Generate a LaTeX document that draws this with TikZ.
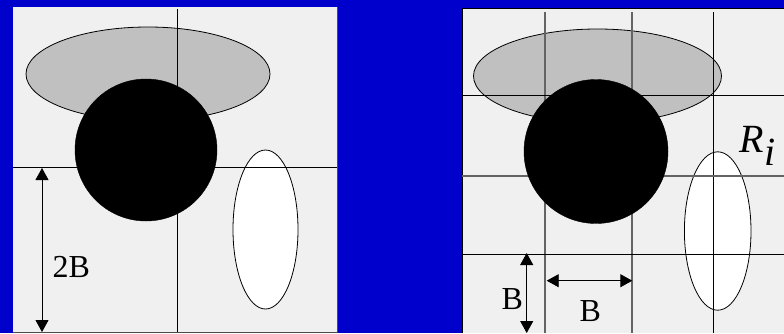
\documentclass[tikz,border=0pt]{standalone}
\usepackage{fontspec}
\setmainfont{Liberation Serif}
\usetikzlibrary{arrows.meta}
\definecolor{bgblue}{RGB}{0,0,204}
\definecolor{panel}{RGB}{240,240,240}
\definecolor{shade}{RGB}{192,192,192}
\definecolor{gridgray}{RGB}{100,100,100}
\tikzset{
  panelbox/.style={fill=panel, draw=none},
  gridline/.style={black, line width=1pt},
  gridlight/.style={gridgray, line width=1.3pt},
  grayblob/.style={fill=shade, draw=black, line width=0.8pt},
  whiteblob/.style={fill=white, draw=black, line width=0.8pt},
  blackblob/.style={fill=black, draw=black},
  dimarrow/.style={black, line width=0.9pt, {Triangle[length=12pt,width=13pt]}-{Triangle[length=12pt,width=13pt]}},
  dimlabel/.style={anchor=base west, inner sep=0pt, font=\fontsize{32}{32}\selectfont},
}
\begin{document}
\begin{tikzpicture}[x=1pt, y=-1pt]
\useasboundingbox (0,0) rectangle (784,333);
\fill[bgblue] (0,0) rectangle (784,333);

% ---------- left panel ----------
\fill[panelbox] (13,7) rectangle (337,332);
\draw[gray!60!black, line width=1.6pt] (337.5,7) -- (337.5,332.5) -- (13,332.5);
\draw[grayblob] (148,74) ellipse [x radius=122, y radius=47];
\draw[whiteblob] (265.5,229.5) ellipse [x radius=32.5, y radius=79.5];
\draw[gridline] (177,9) -- (177,332);
\draw[gridline] (13,167) -- (337,167);
\fill[blackblob] (146,150) circle [radius=71];
\coordinate (l1) at (42,168);
\coordinate (l2) at (42,332);
\draw[dimarrow] (l1) -- (l2);
\node[dimlabel] (lab2b) at (52.5,277) {2B};

% ---------- right panel ----------
\fill[panelbox] (462,8) rectangle (784,333);
\draw[black, line width=1pt] (462,333) -- (462,8) -- (784,8);
\draw[grayblob] (597.5,76) ellipse [x radius=124, y radius=47];
\draw[whiteblob] (717.7,231) ellipse [x radius=33.3, y radius=79.2];
\draw[gridlight] (545,12) -- (545,333);
\draw[gridlight] (632,12) -- (632,333);
\draw[gridline] (713,12) -- (713,333);
\draw[gridline] (462,95) -- (784,95);
\draw[gridlight] (462,176) -- (784,176);
\draw[gridline] (462,254) -- (784,254);
\fill[blackblob] (596,151.5) circle [radius=72];
\coordinate (r1) at (526.7,253);
\coordinate (r2) at (526.7,333);
\draw[dimarrow] (r1) -- (r2);
\coordinate (h1) at (546.7,280.7);
\coordinate (h2) at (632.3,280.7);
\draw[dimarrow] (h1) -- (h2);
\node[dimlabel] (labvb) at (501.5,309) {B};
\node[dimlabel] (labhb) at (579.5,321.5) {B};
\node[anchor=base west, inner sep=0pt, font=\fontsize{40}{40}\selectfont\itshape] (labri) at (739,152) {R\kern1pt\raisebox{-13pt}{i}};
\end{tikzpicture}
\end{document}
